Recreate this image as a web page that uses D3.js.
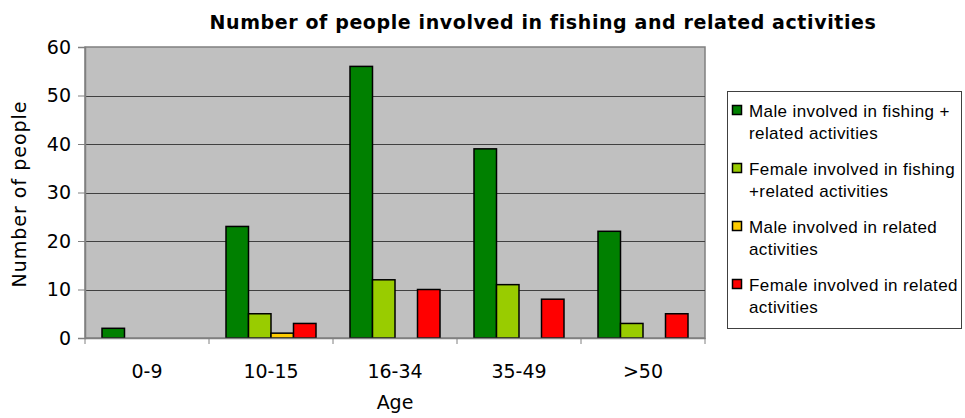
<!DOCTYPE html>
<html>
<meta charset="utf-8">
<script src="https://d3js.org/d3.v7.min.js"></script>
<style>
body{ margin:0; background:white; }
.axisText{ font-family: "DejaVu Sans", Verdana, sans-serif; font-size:19px; fill:black; }
.legendText{ font-family: "Liberation Sans", Arial, sans-serif; font-size:17px; letter-spacing:0.4px; fill:black; }
</style>
<body>
<div id="chartDiv"></div>
<script>
var ages = ["0-9", "10-15", "16-34", "35-49", ">50"];
var seriesNames = [
  ["Male involved in fishing +", "related activities"],
  ["Female involved in fishing", "+related activities"],
  ["Male involved in related", "activities"],
  ["Female involved in related", "activities"]
];
var seriesCols = ["#008000", "#99cc00", "#ffcc00", "#ff0000"];
var maleFishing   = [2, 23, 56, 39, 22];
var femaleFishing = [0, 5, 12, 11, 3];
var maleRelated   = [0, 1, 0, 0, 0];
var femaleRelated = [0, 3, 10, 8, 5];
var yTicks = [0, 10, 20, 30, 40, 50, 60];

var allSeries = [maleFishing, femaleFishing, maleRelated, femaleRelated];

var width = 965, height = 418;
var plotL = 85, plotR = 705, plotT = 47, plotB = 338;

var svg = d3.select("#chartDiv").append("svg").attr("width", width).attr("height", height);

var x0 = d3.scaleBand().domain(ages).range([plotL, plotR]).padding(0);
var x1 = d3.scaleBand().domain(d3.range(4)).range([17, x0.bandwidth() - 17]).padding(0);
var y = d3.scaleLinear().domain([0, 60]).range([plotB, plotT]);

// plot background
svg.append("rect")
  .attr("x", plotL).attr("y", plotT)
  .attr("width", plotR - plotL).attr("height", plotB - plotT)
  .attr("fill", "#c0c0c0")
  .attr("stroke", "#808080").attr("stroke-width", 1.5);

// grid
svg.selectAll(".grid").data(yTicks.slice(1, -1)).enter()
  .append("line")
  .attr("class", "grid")
  .attr("x1", plotL).attr("x2", plotR)
  .attr("y1", function(d){ return Math.round(y(d)) + 0.5; })
  .attr("y2", function(d){ return Math.round(y(d)) + 0.5; })
  .attr("stroke", "#404040").attr("stroke-width", 1);

// bars
var groups = svg.selectAll(".grp").data(ages).enter()
  .append("g").attr("class", "grp")
  .attr("transform", function(d){ return "translate(" + x0(d) + ",0)"; });

groups.selectAll("rect").data(function(d, i){
    return allSeries.map(function(s, k){ return {k: k, v: s[i]}; }).filter(function(o){ return o.v > 0; });
  }).enter()
  .append("rect")
  .attr("x", function(d){ return x1(d.k); })
  .attr("y", function(d){ return y(d.v); })
  .attr("width", x1.bandwidth())
  .attr("height", function(d){ return y(0) - y(d.v); })
  .attr("fill", function(d){ return seriesCols[d.k]; })
  .attr("stroke", "black").attr("stroke-width", 1.5);

// y axis
var yAxis = svg.append("g").attr("transform", "translate(" + plotL + ",0)")
  .call(d3.axisLeft(y).tickValues(yTicks).tickSize(7).tickPadding(7));
yAxis.select(".domain").attr("stroke", "#808080").attr("stroke-width", 1.5);
yAxis.selectAll(".tick line").attr("stroke", "#808080");
yAxis.selectAll("text").attr("class", "axisText");
yAxis.attr("font-size", null).attr("font-family", null);

// x axis
var xAxis = svg.append("g").attr("transform", "translate(0," + plotB + ")")
  .call(d3.axisBottom(x0).tickSize(0).tickPadding(27));
xAxis.select(".domain").attr("stroke", "#808080").attr("stroke-width", 1.5);
xAxis.selectAll("text").attr("class", "axisText");
xAxis.attr("font-size", null).attr("font-family", null);
svg.selectAll(".xtick").data(d3.range(ages.length + 1)).enter()
  .append("line")
  .attr("x1", function(i){ return plotL + i * x0.bandwidth(); })
  .attr("x2", function(i){ return plotL + i * x0.bandwidth(); })
  .attr("y1", plotB).attr("y2", plotB + 6)
  .attr("stroke", "#808080");

// titles
svg.append("text")
  .attr("x", 543).attr("y", 29)
  .attr("text-anchor", "middle")
  .style("font-family", "'DejaVu Sans', Verdana, sans-serif")
  .style("font-weight", "bold").style("font-size", "19px")
  .style("letter-spacing", "0.6px")
  .text("Number of people involved in fishing and related activities");

svg.append("text")
  .attr("class", "axisText")
  .attr("x", 395).attr("y", 409)
  .attr("text-anchor", "middle")
  .text("Age");

svg.append("text")
  .attr("class", "axisText")
  .style("letter-spacing", "1px")
  .attr("transform", "translate(26,194) rotate(-90)")
  .attr("text-anchor", "middle")
  .text("Number of people");

// legend
var legend = svg.append("g");
legend.append("rect")
  .attr("x", 727.5).attr("y", 91.5).attr("width", 234).attr("height", 237)
  .attr("fill", "white").attr("stroke", "#404040").attr("stroke-width", 1);

var items = legend.selectAll(".item").data(seriesNames).enter()
  .append("g").attr("class", "item")
  .attr("transform", function(d, i){ return "translate(732," + (111 + i * 58) + ")"; });
items.append("rect")
  .attr("x", 0.5).attr("y", -5.5).attr("width", 9).attr("height", 9)
  .attr("fill", function(d, i){ return seriesCols[i]; })
  .attr("stroke", "black").attr("stroke-width", 1.5);
items.append("text")
  .attr("class", "legendText")
  .attr("x", 17).attr("y", 6)
  .text(function(d){ return d[0]; });
items.append("text")
  .attr("class", "legendText")
  .attr("x", 17).attr("y", 28)
  .text(function(d){ return d[1]; });
</script>
</body>
</html>
